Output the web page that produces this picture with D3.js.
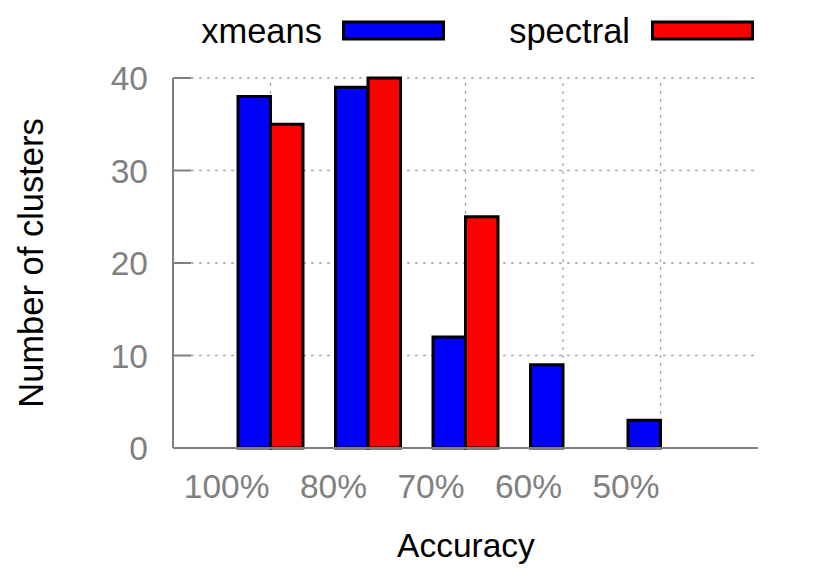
<!DOCTYPE html>
<html>
<head>
<meta charset="utf-8">
<script src="https://cdn.jsdelivr.net/npm/d3@7"></script>
<style>
  html, body { margin: 0; padding: 0; background: #fff; }
  svg { display: block; font-family: "Liberation Sans", Arial, Helvetica, sans-serif; }
</style>
</head>
<body>
<svg id="chart" width="830" height="577"></svg>
<script>
const categories = ["100%", "80%", "70%", "60%", "50%"];
const seriesNames = ["xmeans", "spectral"];
const xmeansValues = [38, 39, 12, 9, 3];
const spectralValues = [35, 40, 25, 0, 0];
const yTicks = [0, 10, 20, 30, 40];
const seriesColors = ["#0000ff", "#ff0000"];

(function () {
const svg = d3.select("#chart");
const plotLeft = 173, plotRight = 758, plotTop = 78, plotBottom = 448;
const axisColor = "#808080";
const gridColor = "#a8a8a8";
const fontSize = 33.5;
const bigFont = 34.5;

// x: clustered histogram, slot positions -1..5
const x = d3.scaleLinear().domain([-1, categories.length]).range([plotLeft, plotRight]);
const y = d3.scaleLinear().domain([0, 40]).range([plotBottom, plotTop]);
const unit = x(1) - x(0);
const barW = unit / 3;
const tickLen = 18;

// horizontal grid
svg.append("g").selectAll("line").data(yTicks.filter(d => d > 0)).join("line")
  .attr("x1", plotLeft + tickLen).attr("x2", plotRight)
  .attr("y1", d => y(d)).attr("y2", d => y(d))
  .attr("stroke", gridColor).attr("stroke-width", 1.3)
  .attr("stroke-dasharray", "3,5");

// vertical grid
svg.append("g").selectAll("line").data(categories).join("line")
  .attr("x1", (d, i) => x(i)).attr("x2", (d, i) => x(i))
  .attr("y1", plotBottom - tickLen).attr("y2", plotTop)
  .attr("stroke", gridColor).attr("stroke-width", 1.3)
  .attr("stroke-dasharray", "3,5");

// x tick marks (inward)
svg.append("g").selectAll("line").data(categories).join("line")
  .attr("x1", (d, i) => x(i)).attr("x2", (d, i) => x(i))
  .attr("y1", plotBottom).attr("y2", plotBottom - tickLen)
  .attr("stroke", axisColor).attr("stroke-width", 2);

// y tick marks (inward)
svg.append("g").selectAll("line").data(yTicks).join("line")
  .attr("x1", plotLeft).attr("x2", plotLeft + tickLen)
  .attr("y1", d => y(d)).attr("y2", d => y(d))
  .attr("stroke", axisColor).attr("stroke-width", 2);

// bars
const data = [xmeansValues, spectralValues];
data.forEach((vals, s) => {
  svg.append("g").selectAll("rect").data(vals).join("rect")
    .filter(d => d > 0)
    .attr("x", (d, i) => x(i) - barW + s * barW)
    .attr("width", barW)
    .attr("y", d => y(d))
    .attr("height", d => y(0) - y(d))
    .attr("fill", seriesColors[s])
    .attr("stroke", "#000").attr("stroke-width", 3);
});

// axis lines
svg.append("line").attr("x1", plotLeft).attr("x2", plotLeft).attr("y1", plotTop).attr("y2", plotBottom)
  .attr("stroke", axisColor).attr("stroke-width", 2);
svg.append("line").attr("x1", plotLeft).attr("x2", plotRight).attr("y1", plotBottom).attr("y2", plotBottom)
  .attr("stroke", axisColor).attr("stroke-width", 2);

// y tick labels
svg.append("g").selectAll("text").data(yTicks).join("text")
  .attr("x", 148).attr("y", d => y(d) + 12)
  .attr("text-anchor", "end")
  .attr("font-size", fontSize).attr("fill", axisColor)
  .text(d => d);

// x tick labels (right-aligned at tick)
svg.append("g").selectAll("text").data(categories).join("text")
  .attr("x", (d, i) => x(i) - 1).attr("y", 498)
  .attr("text-anchor", "end")
  .attr("font-size", fontSize).attr("fill", axisColor)
  .text(d => d);

// axis titles
svg.append("text").attr("x", 466).attr("y", 557)
  .attr("text-anchor", "middle").attr("font-size", fontSize).attr("fill", "#000")
  .text("Accuracy");
svg.append("text").attr("transform", "translate(43,263) rotate(-90)")
  .attr("text-anchor", "middle").attr("font-size", bigFont).attr("fill", "#000")
  .text("Number of clusters");

// legend
const legendTextX = [322, 630];
const legendBoxX = [343.5, 652.5];
seriesNames.forEach((name, s) => {
  svg.append("text").attr("x", legendTextX[s]).attr("y", 42.5)
    .attr("text-anchor", "end").attr("font-size", bigFont).attr("fill", "#000")
    .text(name);
  svg.append("rect").attr("x", legendBoxX[s]).attr("y", 22)
    .attr("width", 100).attr("height", 17)
    .attr("fill", seriesColors[s]).attr("stroke", "#000").attr("stroke-width", 3);
});
})();
</script>
</body>
</html>
